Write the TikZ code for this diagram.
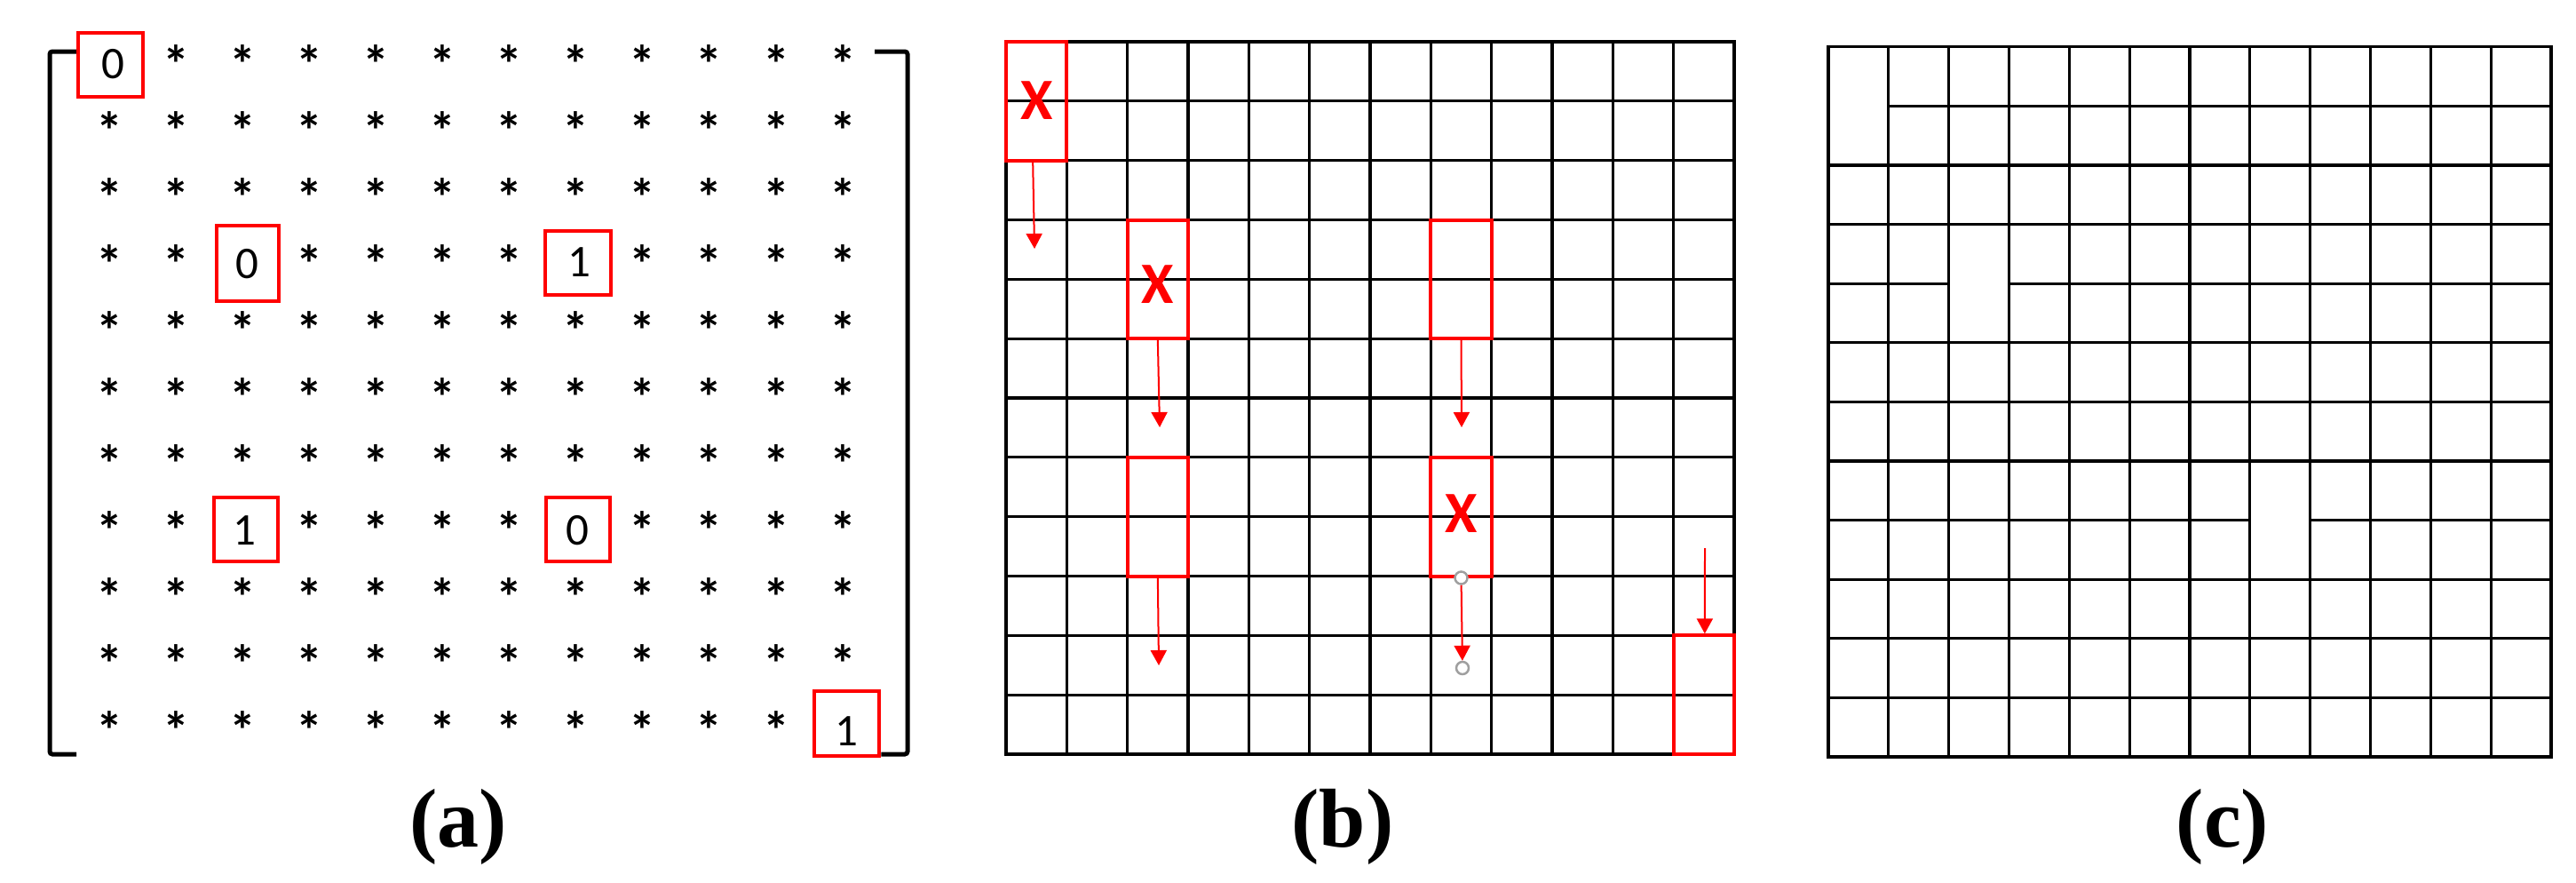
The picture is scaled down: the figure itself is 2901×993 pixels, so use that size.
\documentclass[tikz,border=0pt]{standalone}
\usepackage{fontspec}
\setmainfont{Liberation Serif}
\newfontfamily\calfont{Carlito}
\usetikzlibrary{arrows.meta}
\begin{document}
\begin{tikzpicture}[x=1pt,y=-1pt,
  cell/.style={font=\calfont\fontsize{51}{58}\selectfont, inner sep=0pt},
  star/.style={font=\calfont\bfseries\fontsize{60}{66}\selectfont, inner sep=0pt},
  redbox/.style={draw=red, line width=4.5pt, inner sep=0pt},
  gridline/.style={line width=3.2pt, black, line cap=rect},
  bbox/.style={draw=red, line width=4pt, inner sep=0pt, minimum width=68.333pt, minimum height=133.667pt},
  crossmark/.style={text=red, font=\calfont\bfseries\fontsize{66}{70}\selectfont, inner sep=0pt},
  arr/.style={red, line width=2pt, -{Triangle[width=18pt,length=17pt]}},
  dot/.style={circle, draw=gray!75, line width=2.5pt, fill=white, minimum size=14pt, inner sep=0pt},
  caption/.style={font=\bfseries\fontsize{94}{100}\selectfont, inner sep=0pt},
  bracket/.style={line width=5pt, rounded corners=3pt}
]
\useasboundingbox (0,0) rectangle (2901,993);

% ---------------- panel (a) ----------------
\foreach \r in {0,...,10}{
  \foreach \c in {0,...,11}{
    \pgfmathtruncatemacro\isbox{((\r==0)&&(\c==0))||((\r==3)&&(\c==2))||((\r==3)&&(\c==7))||((\r==7)&&(\c==2))||((\r==7)&&(\c==7))||((\r==10)&&(\c==11))}
    \ifnum\isbox=0
      \node[star] (a-\r-\c) at ({123+75.1*\c},{72+75*\r}) {*};
    \fi
  }
}
\node[redbox, minimum width=73pt, minimum height=72pt] (ba1) at (124.5,73) {};
\node[redbox, minimum width=70pt, minimum height=85pt] (ba2) at (279,296.5) {};
\node[redbox, minimum width=74pt, minimum height=72pt] (ba3) at (651,296) {};
\node[redbox, minimum width=72pt, minimum height=72pt] (ba4) at (277,596) {};
\node[redbox, minimum width=72pt, minimum height=72pt] (ba5) at (651,596) {};
\node[redbox, minimum width=73pt, minimum height=73pt] (ba6) at (953.5,814.5) {};
\node[cell] (da1) at (127,72) {0};
\node[cell] (da2) at (278,297) {0};
\node[cell] (da3) at (652,295) {1};
\node[cell] (da4) at (275,597) {1};
\node[cell] (da5) at (650,597) {0};
\node[cell] (da6) at (953,823) {1};

\draw[bracket] (ba1.west |- 0,58) -- (56,58) -- (56,849) -- (86,849);
\draw[bracket] (985,58) -- (1022,58) -- (1022,849) -- (ba6.east |- 0,849);

% ---------------- panel (b) ----------------
\foreach \i in {0,...,12}{
  \draw[gridline] ({1133+\i*68.333},47) -- ({1133+\i*68.333},849);
  \draw[gridline] (1133,{47+\i*66.833}) -- (1953,{47+\i*66.833});
}
\node[bbox] (B1) at ({1133+0.5*68.333},{47+1*66.833}) {};
\node[bbox] (B2) at ({1133+2.5*68.333},{47+4*66.833}) {};
\node[bbox] (B3) at ({1133+2.5*68.333},{47+8*66.833}) {};
\node[bbox] (B4) at ({1133+7.5*68.333},{47+4*66.833}) {};
\node[bbox] (B5) at ({1133+7.5*68.333},{47+8*66.833}) {};
\node[bbox] (B6) at ({1133+11.5*68.333},{47+11*66.833}) {};
\node[crossmark] (X1) at ([yshift=1pt]B1.center) {X};
\node[crossmark] (X2) at ([yshift=-6pt]B2.center) {X};
\node[crossmark] (X5) at ([yshift=4pt]B5.center) {X};

\coordinate (t1) at (1165,280);
\coordinate (t2) at (1306,481);
\coordinate (t3) at (1305,749);
\coordinate (t4) at (1646,481);
\coordinate (s6) at (1920,617);
\draw[arr] ([xshift=-4pt]B1.south) -- (t1);
\draw[arr] (B2.south) -- (t2);
\draw[arr] (B3.south) -- (t3);
\draw[arr] (B4.south) -- (t4);
\draw[arr] (s6) -- ([xshift=1pt]B6.north);
\node[dot] (c1) at (B5.south) {};
\node[dot] (c2) at (1647,752) {};
\draw[arr] (c1) -- (c2);

% ---------------- panel (c) ----------------
\foreach \i in {0,...,12}{
  \draw[gridline] ({2059+\i*67.833},52.8) -- ({2059+\i*67.833},852);
}
\foreach \j in {0,2,3,5,6,7,9,10,11,12}{
  \draw[gridline] (2059,{52.8+\j*66.6}) -- (2873,{52.8+\j*66.6});
}
\draw[gridline] ({2059+1*67.833},{52.8+1*66.6}) -- (2873,{52.8+1*66.6});
\draw[gridline] (2059,{52.8+4*66.6}) -- ({2059+2*67.833},{52.8+4*66.6});
\draw[gridline] ({2059+3*67.833},{52.8+4*66.6}) -- (2873,{52.8+4*66.6});
\draw[gridline] (2059,{52.8+8*66.6}) -- ({2059+7*67.833},{52.8+8*66.6});
\draw[gridline] ({2059+8*67.833},{52.8+8*66.6}) -- (2873,{52.8+8*66.6});

% ---------------- captions ----------------
\node[caption] (capa) at (516,931) {(a)};
\node[caption] (capb) at (1512,931) {(b)};
\node[caption] (capc) at (2503,931) {(c)};
\end{tikzpicture}
\end{document}
